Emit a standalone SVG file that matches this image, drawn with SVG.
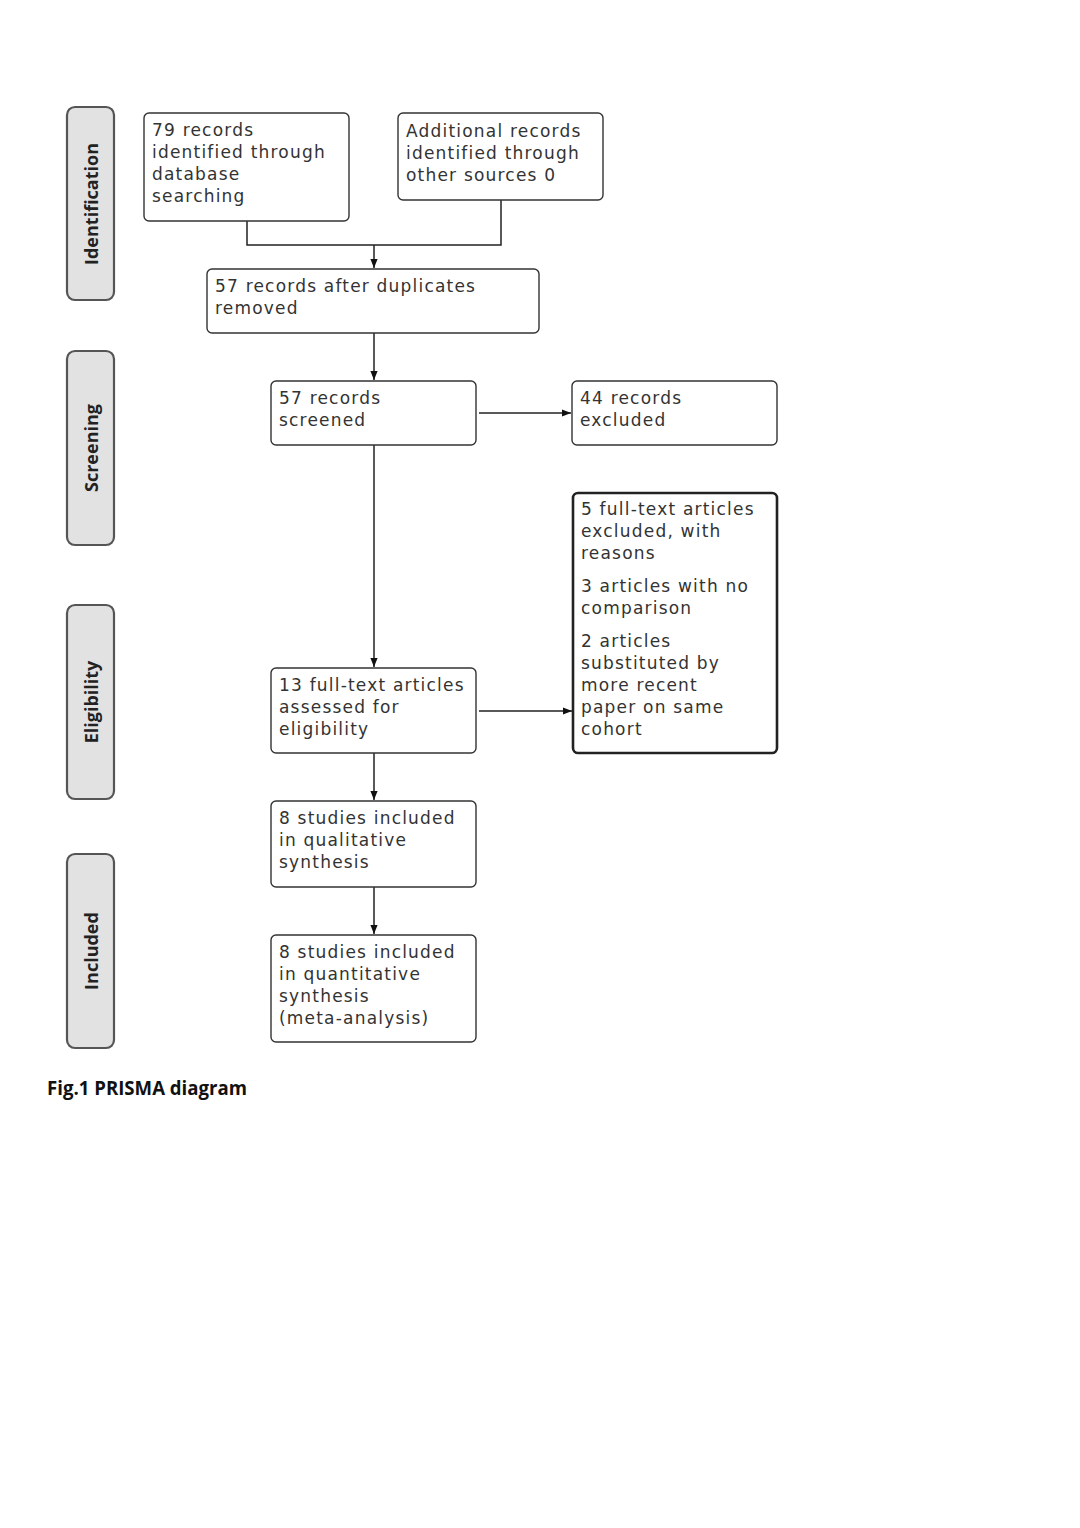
<svg xmlns="http://www.w3.org/2000/svg" width="1080" height="1528" viewBox="0 0 1080 1528">
<style>
.stage{fill:#e2e2e2;stroke:#555;stroke-width:2.2}
.stxt{font-family:"Open Sans","Liberation Sans",sans-serif;font-weight:bold;font-size:18px;fill:#222;text-anchor:middle}
.box{fill:#fff;stroke:#333;stroke-width:1.4}
.thick{stroke-width:2.6;stroke:#222}
.t{font-family:"DejaVu Sans",Verdana,sans-serif;font-size:17px;letter-spacing:1.2px;fill:#333}
.conn{fill:none;stroke:#222;stroke-width:1.5}
.cap{font-family:"Open Sans","Liberation Sans",sans-serif;font-weight:bold;font-size:19px;fill:#111}
</style>
<defs>
<marker id="arr" viewBox="0 0 10 10" refX="10" refY="5" markerWidth="9" markerHeight="9" markerUnits="userSpaceOnUse" orient="auto">
<path d="M0,1 L10,5 L0,9 Z" fill="#111"/>
</marker>
</defs>
<rect width="1080" height="1528" fill="#fff"/>
<g id="stages">
<g id="stage-identification"><rect class="stage" x="67" y="107" width="47" height="193" rx="8"/><text class="stxt" transform="translate(98,204) rotate(-90)">Identification</text></g>
<g id="stage-screening"><rect class="stage" x="67" y="351" width="47" height="194" rx="8"/><text class="stxt" transform="translate(98,448) rotate(-90)">Screening</text></g>
<g id="stage-eligibility"><rect class="stage" x="67" y="605" width="47" height="194" rx="8"/><text class="stxt" transform="translate(98,702) rotate(-90)">Eligibility</text></g>
<g id="stage-included"><rect class="stage" x="67" y="854" width="47" height="194" rx="8"/><text class="stxt" transform="translate(98,951) rotate(-90)">Included</text></g>
</g>
<g id="connectors">
<path class="conn" d="M247,221 V245 H501 V200"/>
<path class="conn" d="M374,245 V268" marker-end="url(#arr)"/>
<path class="conn" d="M374,333 V380" marker-end="url(#arr)"/>
<path class="conn" d="M479,413 H571" marker-end="url(#arr)"/>
<path class="conn" d="M374,445 V667" marker-end="url(#arr)"/>
<path class="conn" d="M479,711 H572" marker-end="url(#arr)"/>
<path class="conn" d="M374,753 V800" marker-end="url(#arr)"/>
<path class="conn" d="M374,887 V934" marker-end="url(#arr)"/>
</g>
<g id="n1"><rect class="box" x="144" y="113" width="205" height="108" rx="5"/>
<text class="t" x="152" y="136">79 records</text><text class="t" x="152" y="158">identified through</text><text class="t" x="152" y="180">database</text><text class="t" x="152" y="202">searching</text></g>
<g id="n2"><rect class="box" x="398" y="113" width="205" height="87" rx="5"/>
<text class="t" x="406" y="137">Additional records</text><text class="t" x="406" y="159">identified through</text><text class="t" x="406" y="181">other sources 0</text></g>
<g id="n3"><rect class="box" x="207" y="269" width="332" height="64" rx="5"/>
<text class="t" x="215" y="292">57 records after duplicates</text><text class="t" x="215" y="314">removed</text></g>
<g id="n4"><rect class="box" x="271" y="381" width="205" height="64" rx="5"/>
<text class="t" x="279" y="404">57 records</text><text class="t" x="279" y="426">screened</text></g>
<g id="n5"><rect class="box" x="572" y="381" width="205" height="64" rx="5"/>
<text class="t" x="580" y="404">44 records</text><text class="t" x="580" y="426">excluded</text></g>
<g id="n6"><rect class="box thick" x="573" y="493" width="204" height="260" rx="5"/>
<text class="t" x="581" y="515">5 full-text articles</text><text class="t" x="581" y="537">excluded, with</text><text class="t" x="581" y="559">reasons</text>
<text class="t" x="581" y="592">3 articles with no</text><text class="t" x="581" y="614">comparison</text>
<text class="t" x="581" y="647">2 articles</text><text class="t" x="581" y="669">substituted by</text><text class="t" x="581" y="691">more recent</text><text class="t" x="581" y="713">paper on same</text><text class="t" x="581" y="735">cohort</text></g>
<g id="n7"><rect class="box" x="271" y="668" width="205" height="85" rx="5"/>
<text class="t" x="279" y="691">13 full-text articles</text><text class="t" x="279" y="713">assessed for</text><text class="t" x="279" y="735">eligibility</text></g>
<g id="n8"><rect class="box" x="271" y="801" width="205" height="86" rx="5"/>
<text class="t" x="279" y="824">8 studies included</text><text class="t" x="279" y="846">in qualitative</text><text class="t" x="279" y="868">synthesis</text></g>
<g id="n9"><rect class="box" x="271" y="935" width="205" height="107" rx="5"/>
<text class="t" x="279" y="958">8 studies included</text><text class="t" x="279" y="980">in quantitative</text><text class="t" x="279" y="1002">synthesis</text><text class="t" x="279" y="1024">(meta-analysis)</text></g>
<text class="cap" x="47" y="1095" textLength="200" lengthAdjust="spacingAndGlyphs">Fig.1 PRISMA diagram</text>
</svg>
